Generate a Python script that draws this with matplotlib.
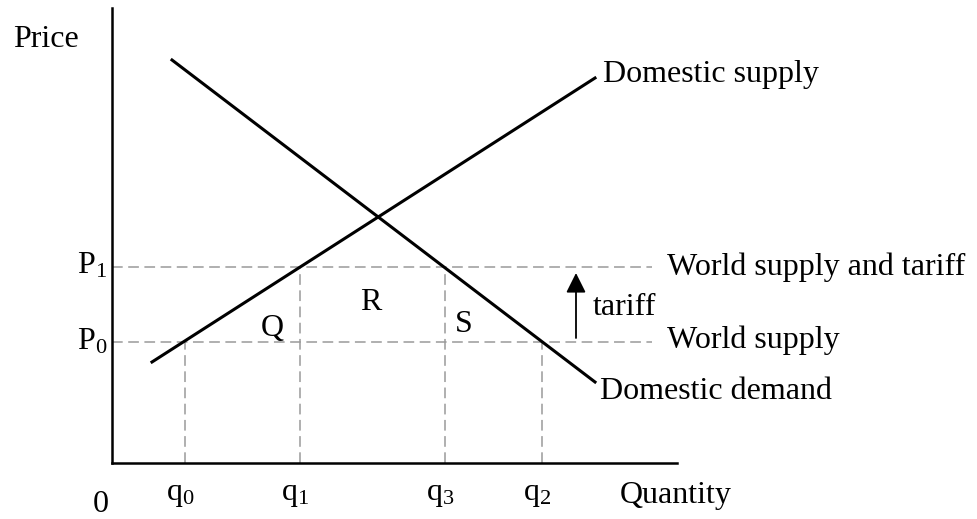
import matplotlib.pyplot as plt

plt.rcParams['font.family'] = ['Liberation Serif', 'DejaVu Serif']
plt.rcParams['mathtext.fontset'] = 'custom'
plt.rcParams['mathtext.rm'] = 'Liberation Serif'
plt.rcParams['mathtext.it'] = 'Liberation Serif:italic'

# quantities and prices (abstract units, origin at axis corner)
q_vals = {'q0': 7.3, 'q1': 18.8, 'q3': 33.3, 'q2': 43.0}
q_labels = [r'$\mathrm{q}_{0}$', r'$\mathrm{q}_{1}$', r'$\mathrm{q}_{3}$', r'$\mathrm{q}_{2}$']
p0 = 12.1
p1 = 19.6
supply_x = [4.0, 48.3]
supply_y = [10.1, 38.5]
demand_x = [6.0, 48.3]
demand_y = [40.3, 8.1]
world_line_end = 54.0

fs = 23
grey = '#9a9a9a'
dash = (7, 3.6)

fig = plt.figure(figsize=(9.78, 5.19), dpi=100)
ax = fig.add_axes([112 / 978, 56 / 519, 565 / 978, 455 / 519])
ax.set_xlim(0, 56.5)
ax.set_ylim(0, 45.5)
for s in ['top', 'right']:
    ax.spines[s].set_visible(False)
for s in ['left', 'bottom']:
    ax.spines[s].set_linewidth(1.8)
ax.set_xticks([])
ax.set_yticks([])

# dashed price lines
for p in [p0, p1]:
    ax.plot([0, world_line_end], [p, p], color=grey, lw=1.1, dashes=dash, clip_on=False)

# dashed quantity lines
q_tops = [p0, p1, p1, p0]
for q, top in zip(q_vals.values(), q_tops):
    ax.plot([q, q], [0, top], color=grey, lw=1.1, dashes=dash)

# supply and demand
ax.plot(supply_x, supply_y, color='black', lw=2.2, clip_on=False)
ax.plot(demand_x, demand_y, color='black', lw=2.2, clip_on=False)

# tariff arrow
ax.annotate('', xy=(46.4, 19.0), xytext=(46.4, 12.5),
            arrowprops=dict(arrowstyle='-|>,head_length=1.2,head_width=0.6',
                            color='black', lw=1.3, shrinkA=0, shrinkB=0),
            annotation_clip=False)

# texts
kw = dict(fontsize=fs, va='baseline', clip_on=False)
ax.text(-9.9, 41.6, 'Price', ha='left', **kw)
ax.text(-3.5, 19.0, r'$\mathrm{P}_{1}$', ha='left', **kw)
ax.text(-3.5, 11.3, r'$\mathrm{P}_{0}$', ha='left', **kw)
ax.text(-1.9, -4.87, '0', ha='left', **kw)
for q, lab in zip(q_vals.values(), q_labels):
    ax.text(q - 0.5, -3.7, lab, ha='center', **kw)
ax.text(50.8, -4.0, 'Quantity', ha='left', **kw)
ax.text(49.1, 38.1, 'Domestic supply', ha='left', **kw)
ax.text(55.5, 18.8, 'World supply and tariff', ha='left', **kw)
ax.text(55.5, 11.5, 'World supply', ha='left', **kw)
ax.text(48.8, 6.4, 'Domestic demand', ha='left', **kw)
ax.text(48.1, 14.8, 'tariff', ha='left', **kw)
ax.text(16.0, 12.7, 'Q', ha='center', **kw)
ax.text(25.9, 15.3, 'R', ha='center', **kw)
ax.text(35.2, 13.1, 'S', ha='center', **kw)

fig.savefig('out.png', dpi=100)
